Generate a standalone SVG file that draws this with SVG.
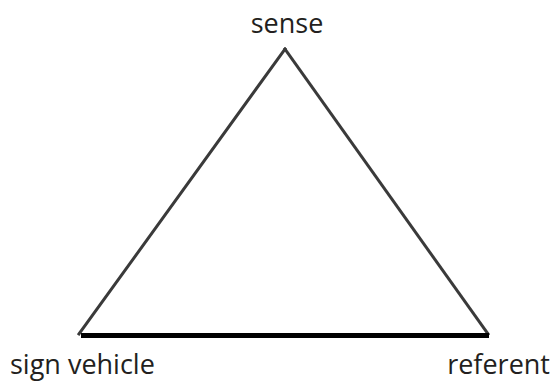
<svg xmlns="http://www.w3.org/2000/svg" width="556" height="382" viewBox="0 0 556 382">
<style>
.lbl{font-family:"Open Sans","Liberation Sans",sans-serif;font-size:27px;fill:#231f20}
.side{stroke:#3a3a3a;stroke-width:3;fill:none;stroke-linecap:square}
.base{stroke:#000;stroke-width:5;fill:none}
</style>
<rect width="556" height="382" fill="#fff"/>
<g id="connectors">
<line class="side" x1="79" y1="334" x2="285" y2="49"/>
<line class="side" x1="285" y1="49" x2="488" y2="334"/>
<line class="base" x1="81" y1="335.5" x2="489" y2="335.5"/>
</g>
<g id="sense"><text class="lbl" x="287" y="33" text-anchor="middle">sense</text></g>
<g id="sign-vehicle"><text class="lbl" x="10" y="374">sign vehicle</text></g>
<g id="referent"><text class="lbl" x="550" y="374" text-anchor="end">referent</text></g>
</svg>
